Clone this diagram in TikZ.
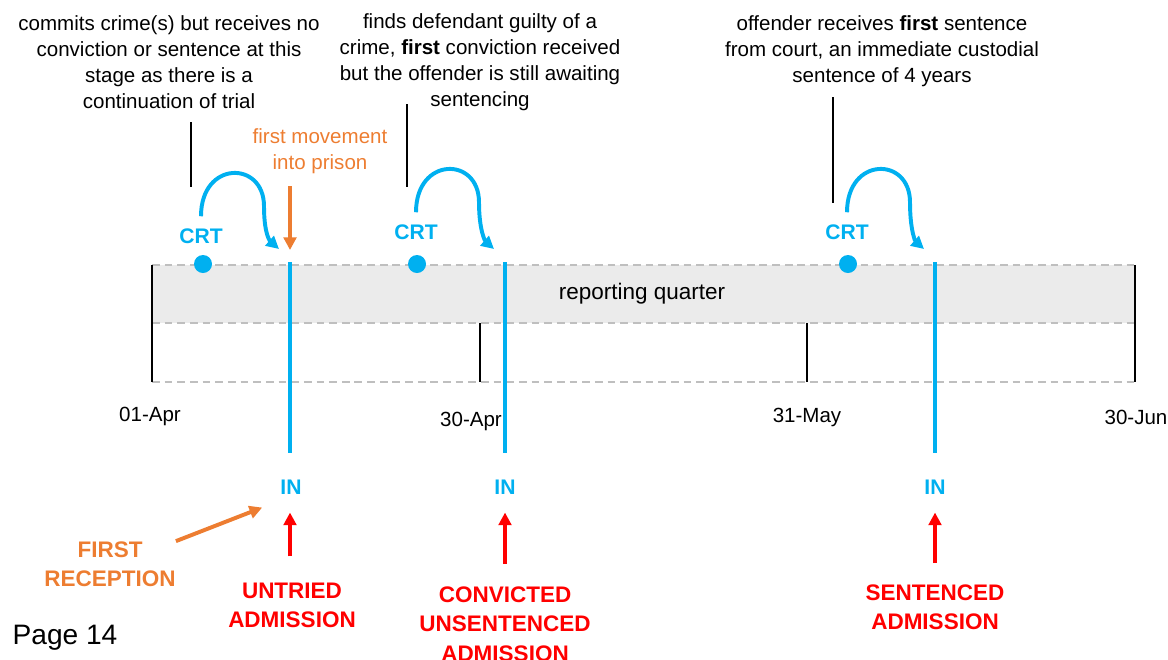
\documentclass[tikz,border=0pt]{standalone}
\usepackage{fontspec}
\setmainfont{Liberation Sans}
\usetikzlibrary{arrows.meta,calc,positioning}

\definecolor{crtblue}{HTML}{00B0F0}
\definecolor{moveorange}{HTML}{ED7D31}
\definecolor{admred}{HTML}{FF0000}
\definecolor{bandgray}{HTML}{EBEBEB}
\definecolor{dashgray}{HTML}{BFBFBF}

\tikzset{
    note/.style={align=center, inner sep=0pt, font=\fontsize{14.6}{18.6}\selectfont},
    datelabel/.style={inner sep=0pt, font=\fontsize{14.6}{17}\selectfont},
    crtlabel/.style={inner sep=0pt, text=crtblue, font=\fontsize{15}{18}\selectfont\bfseries},
    admlabel/.style={align=center, inner sep=0pt, text=admred, font=\fontsize{16}{20.8}\selectfont\bfseries},
    crtdot/.style={circle, fill=crtblue, minimum size=0.45cm, inner sep=0pt},
    bandline/.style={dashgray, line width=1.4pt, dash pattern=on 5.5pt off 3.5pt},
    tickline/.style={black, line width=1.2pt},
    pointer/.style={black, line width=1pt},
    inline/.style={crtblue, line width=2.8pt},
    hop/.style={crtblue, line width=2.8pt, -{Triangle[length=9pt,width=9pt]}},
    movearrow/.style={moveorange, line width=2.8pt, -{Triangle[length=9pt,width=9pt]}},
    admarrow/.style={admred, line width=2.8pt, -{Triangle[length=9pt,width=9pt]}}
}

\begin{document}
\begin{tikzpicture}[x=0.025cm, y=-0.025cm]
    \useasboundingbox (0,0) rectangle (1168,659);

    % reporting quarter band
    \fill[bandgray] (152,265) rectangle (1135,323);
    \foreach \y in {265,323,382}
        \draw[bandline] (152,\y) -- (1135,\y);
    \draw[tickline] (152,265) -- (152,382);
    \draw[tickline] (1135,265) -- (1135,382);
    \draw[tickline] (480,323) -- (480,382);
    \draw[tickline] (807,323) -- (807,382);
    \node[note, font=\fontsize{16}{19}\selectfont] (quarter) at (642,294) {reporting quarter};

    \node[datelabel] (d1) at (150,416) {01-Apr};
    \node[datelabel] (d2) at (471,421) {30-Apr};
    \node[datelabel] (d3) at (807,417) {31-May};
    \node[datelabel] (d4) at (1136,417) {30-Jun};

    % notes above the court hearings
    \node[note] (note1) at (169,62) {commits crime(s) but receives no\\conviction or sentence at this\\stage as there is a\\continuation of trial};
    \node[note] (note2) at (480,62) {finds defendant guilty of a\\crime, \textbf{first} conviction received\\but the offender is still awaiting\\sentencing};
    \node[note] (note3) at (882,51) {offender receives \textbf{first} sentence\\from court, an immediate custodial\\sentence of 4 years};
    \node[note, text=moveorange] (move) at (320,151) {first movement\\into prison};

    \coordinate (pin1) at (191,122);
    \coordinate (pin2) at (407,104);
    \coordinate (pin3) at (833,97);
    \draw[pointer] (pin1) -- ++(0,65);
    \draw[pointer] (pin2) -- ++(0,83);
    \draw[pointer] (pin3) -- ++(0,106);

    % court hearings
    \node[crtdot] (dot1) at (203,264) {};
    \node[crtdot] (dot2) at (417,264) {};
    \node[crtdot] (dot3) at (848,264) {};
    \node[crtlabel] (crt1) at (201,236) {CRT};
    \node[crtlabel] (crt2) at (416,232) {CRT};
    \node[crtlabel] (crt3) at (847,232) {CRT};

    % receptions
    \coordinate (top1) at (290,262);
    \coordinate (top2) at (505,262);
    \coordinate (top3) at (935,262);
    \node[crtlabel] (in1) at (291,487) {IN};
    \node[crtlabel] (in2) at (505,487) {IN};
    \node[crtlabel] (in3) at (935,487) {IN};
    \draw[inline] (top1) -- ($(in1.north)+(-1,-26)$);
    \draw[inline] (top2) -- ($(in2.north)+(0,-26)$);
    \draw[inline] (top3) -- ($(in3.north)+(0,-26)$);

    \foreach \n in {1,2,3}
        \draw[hop] ($(crt\n.north)+(0,-12)$) .. controls +(0,-56) and +(0,-46) .. ++(63,-10)
            .. controls +(0,30) and +(-8,-7) .. ($(top\n)+(-11,-13)$);

    \draw[movearrow] ($(top1)+(0,-76)$) -- ($(top1)+(0,-12)$);

    \node[admlabel, text=moveorange] (first) at (110,564) {FIRST\\RECEPTION};
    \node[admlabel] (adm1) at (292,605) {UNTRIED\\ADMISSION};
    \node[admlabel] (adm2) at (505,624) {CONVICTED\\UNSENTENCED\\ADMISSION};
    \node[admlabel] (adm3) at (935,607) {SENTENCED\\ADMISSION};

    \draw[movearrow] (first.north east) -- ($(in1.south west)+(-18,13)$);
    \draw[admarrow] ($(adm1.north)+(-2,-26)$) -- ($(in1.south)+(-1,18)$);
    \draw[admarrow] ($(adm2.north)+(0,-23)$) -- ($(in2.south)+(0,18)$);
    \draw[admarrow] ($(adm3.north)+(0,-21)$) -- ($(in3.south)+(0,18)$);

    \node[note, font=\fontsize{20}{24}\selectfont] (page) at (65,638) {Page 14};
\end{tikzpicture}
\end{document}
